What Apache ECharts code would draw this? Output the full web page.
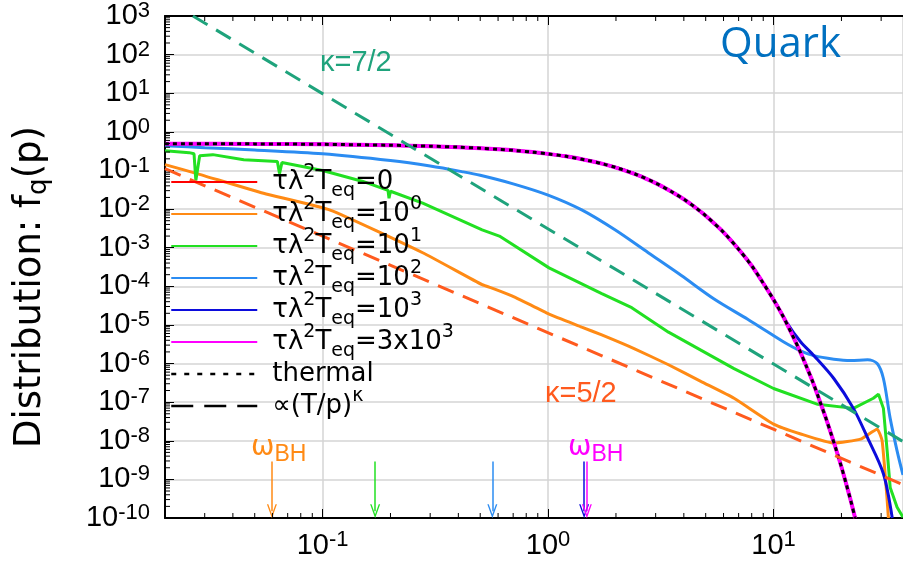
<!DOCTYPE html>
<html>
<head>
<meta charset="UTF-8">
<title>Quark distribution</title>
<script src="https://cdn.jsdelivr.net/npm/echarts@6/dist/echarts.min.js"></script>
<style>
  html, body { margin: 0; padding: 0; background: #fff; }
  #main { width: 903px; height: 566px; }
</style>
</head>
<body>
<div id="main"></div>
<script>
// momentum p (units of T) and f_q(p)
var pThermal = [0.02, 0.05, 0.1, 0.2, 0.3, 0.4, 0.5, 0.6, 0.7, 0.85, 1, 1.2, 1.5, 1.75, 2, 2.5, 3, 3.5, 4, 4.5, 5, 6, 7, 8, 9, 10, 11, 12, 13, 14, 15, 16, 17, 18, 19, 20, 21, 22, 23];
var fThermal = [0.495, 0.488, 0.475, 0.45, 0.426, 0.401, 0.378, 0.354, 0.332, 0.299, 0.269, 0.232, 0.182, 0.148, 0.119, 0.076, 0.047, 0.029, 0.018, 0.011, 0.0067, 0.0025, 9.1e-4, 3.4e-4, 1.2e-4, 4.5e-5, 1.7e-5, 6.1e-6, 2.3e-6, 8.3e-7, 3.1e-7, 1.1e-7, 4.1e-8, 1.5e-8, 5.6e-9, 2.1e-9, 7.6e-10, 2.8e-10, 1.0e-10];
// tau*lambda^2*T_eq = 0 and 3x10^3 lie on the thermal curve
var fTau0 = [0.495, 0.488, 0.475, 0.45, 0.426, 0.401, 0.378, 0.354, 0.332, 0.299, 0.269, 0.232, 0.182, 0.148, 0.119, 0.076, 0.047, 0.029, 0.018, 0.011, 0.0067, 0.0025, 9.1e-4, 3.4e-4, 1.2e-4, 4.5e-5, 1.7e-5, 6.1e-6, 2.3e-6, 8.3e-7, 3.1e-7, 1.1e-7, 4.1e-8, 1.5e-8, 5.6e-9, 2.1e-9, 7.6e-10, 2.8e-10, 1.0e-10];
var fTau3e3 = [0.495, 0.488, 0.475, 0.45, 0.426, 0.401, 0.378, 0.354, 0.332, 0.299, 0.269, 0.232, 0.182, 0.148, 0.119, 0.076, 0.047, 0.029, 0.018, 0.011, 0.0067, 0.0025, 9.1e-4, 3.4e-4, 1.2e-4, 4.5e-5, 1.7e-5, 6.1e-6, 2.3e-6, 8.3e-7, 3.1e-7, 1.1e-7, 4.1e-8, 1.5e-8, 5.6e-9, 2.1e-9, 7.6e-10, 2.8e-10, 1.0e-10];

var pTau1e3 = [0.02, 0.05, 0.1, 0.2, 0.3, 0.4, 0.5, 0.6, 0.7, 0.85, 1, 1.2, 1.5, 1.75, 2, 2.5, 3, 3.5, 4, 4.5, 5, 6, 7, 8, 9, 10, 11.5, 13.2, 15.1, 18.5, 22.6, 26.1, 30.7, 33.6];
var fTau1e3 = [0.495, 0.488, 0.475, 0.45, 0.426, 0.401, 0.378, 0.354, 0.332, 0.299, 0.269, 0.232, 0.182, 0.148, 0.119, 0.076, 0.047, 0.029, 0.018, 0.011, 0.0067, 0.0025, 9.1e-4, 3.4e-4, 1.2e-4, 4.6e-5, 1.1e-5, 3.6e-6, 1.6e-6, 4.1e-7, 6.9e-8, 1.2e-8, 1.4e-9, 1.0e-10];

var pTau1e2 = [0.02, 0.03, 0.05, 0.1, 0.2, 0.3, 0.42, 0.5, 0.7, 1.0, 1.41, 1.98, 2.78, 3.9, 5.45, 7.68, 9.06, 11.1, 13, 15.1, 18.5, 22, 26.1, 28.8, 30.7, 32.9, 35.3, 37.5];
var fTau1e2 = [0.435, 0.39, 0.34, 0.27, 0.18, 0.13, 0.092, 0.075, 0.045, 0.023, 0.0095, 0.0029, 7.4e-4, 1.9e-4, 4.7e-5, 1.4e-5, 7.6e-6, 3.6e-6, 2.2e-6, 1.6e-6, 1.3e-6, 1.2e-6, 1.25e-6, 1.0e-6, 4.1e-7, 3.8e-8, 5.5e-9, 1.3e-9];

var pTau1e1 = [0.02, 0.0256, 0.0269, 0.0274, 0.0285, 0.0326, 0.0447, 0.063, 0.0644, 0.066, 0.1, 0.151, 0.195, 0.197, 0.2, 0.278, 0.51, 0.608, 1.01, 1.73, 2.35, 3.42, 6.68, 10, 15.7, 22.6, 27.7, 29.2, 30.7, 31.9, 32.9, 35.3, 37.5];
var fTau1e1 = [0.324, 0.289, 0.27, 0.055, 0.24, 0.257, 0.19, 0.17, 0.083, 0.16, 0.1, 0.052, 0.0305, 0.019, 0.029, 0.0142, 0.00288, 0.002, 3.0e-4, 6.5e-5, 2.8e-5, 6.5e-6, 7.4e-7, 2.26e-7, 8.8e-8, 6.9e-8, 1.26e-7, 1.6e-7, 6.9e-8, 5.5e-9, 6.2e-10, 1.9e-10, 1.05e-10];

var pTau1e0 = [0.02, 0.0277, 0.0547, 0.108, 0.278, 0.51, 0.58, 0.715, 1.01, 1.41, 1.73, 2.42, 3.42, 4.78, 6.68, 10, 13.2, 18.5, 24.3, 28.8, 30.3, 31.9, 32.3];
var fTau1e0 = [0.142, 0.083, 0.0256, 0.0094, 7.4e-4, 1.1e-4, 8.5e-5, 5.2e-5, 1.9e-5, 8.8e-6, 5.5e-6, 2.4e-6, 9.3e-7, 3.4e-7, 1.26e-7, 2.7e-8, 1.5e-8, 8.7e-9, 1.1e-8, 2.0e-8, 1.0e-8, 2.9e-10, 1.0e-10];

// power-law guides (T/p)^kappa
var pK72 = [0.0266, 40];
var fK72 = [1000, 7.6e-9];
var pK52 = [0.02, 40];
var fK52 = [0.111, 6.2e-10];

// omega_BH arrows: position on the p axis, arrow top and tip
var pArrow = [0.0596, 0.171, 0.566, 1.445, 1.486];
var fArrowTop = 2.9e-9;
var fArrowEnd = 1.5e-10;

var X_MIN = 0.02, X_MAX = 37.5, Y_MIN = 1e-10, Y_MAX = 1e3;

var RED = '#ff0000', ORANGE = '#ff8a14', GREEN = '#22e022', LBLUE = '#2b8cf2',
    DBLUE = '#0c0cdc', MAGENTA = '#ff00ff', TEAL = '#1fa37c', ORED = '#ff5a1e';

var names = ['τλ2Teq=0', 'τλ2Teq=10^0', 'τλ2Teq=10^1', 'τλ2Teq=10^2', 'τλ2Teq=10^3', 'τλ2Teq=3x10^3', 'thermal', '∝(T/p)^κ'];
var legendRich = {};
legendRich[names[0]] = 'τλ{sup|2}T{sub|eq}=0';
legendRich[names[1]] = 'τλ{sup|2}T{sub|eq}=10{sup|0}';
legendRich[names[2]] = 'τλ{sup|2}T{sub|eq}=10{sup|1}';
legendRich[names[3]] = 'τλ{sup|2}T{sub|eq}=10{sup|2}';
legendRich[names[4]] = 'τλ{sup|2}T{sub|eq}=10{sup|3}';
legendRich[names[5]] = 'τλ{sup|2}T{sub|eq}=3x10{sup|3}';
legendRich[names[6]] = 'thermal';
legendRich[names[7]] = '∝(T/p){sup|κ}';

function pairs(xs, ys) {
    return xs.map(function (x, i) { return [x, ys[i]]; });
}

function curve(name, color, xs, ys, extra) {
    var s = {
        name: name,
        type: 'line',
        data: pairs(xs, ys),
        symbol: 'none',
        smooth: 0.3,
        silent: true,
        emphasis: { disabled: true },
        lineStyle: { color: color, width: 3 },
        itemStyle: { color: color }
    };
    for (var k in extra) s[k] = extra[k];
    return s;
}

// open V arrow head, pointing up before rotation
var ARROW = 'path://M5,0 L10,13 L8.6,13 L5,3.6 L1.4,13 L0,13 Z';
function arrow(p, color) {
    return {
        silent: true,
        symbol: ['none', ARROW],
        symbolSize: [10, 14],
        label: { show: false },
        emphasis: { disabled: true },
        lineStyle: { color: color, width: 1.5, type: 'solid' },
        data: [[{ coord: [p, fArrowTop] }, { coord: [p, fArrowEnd] }]]
    };
}

function pow10(v) {
    return '10{s|' + Math.round(Math.log10(v)) + '}';
}

// minor tick positions 2..9 x 10^k
var yMinor = [], xMinor = [];
for (var k = -10; k < 3; k++) {
    for (var m = 2; m < 10; m++) yMinor.push([X_MIN, m * Math.pow(10, k)]);
}
for (var k2 = -2; k2 < 2; k2++) {
    for (var m2 = 2; m2 < 10; m2++) {
        var v = m2 * Math.pow(10, k2);
        if (v > X_MIN * 1.001 && v < X_MAX) xMinor.push(v);
    }
}
function tickSeries(data, dx, dy) {
    return {
        type: 'custom',
        silent: true,
        clip: false,
        z: 5,
        data: data,
        renderItem: function (params, api) {
            var pt = api.coord([api.value(0), api.value(1)]);
            return {
                type: 'line',
                shape: { x1: pt[0], y1: pt[1], x2: pt[0] + dx, y2: pt[1] + dy },
                style: { stroke: '#000', lineWidth: 1 }
            };
        }
    };
}

var chart = echarts.init(document.getElementById('main'));

var option = {
    animation: false,
    backgroundColor: '#fff',
    grid: { left: 161, right: 0, top: 11, bottom: 48 },
    legend: {
        orient: 'vertical',
        left: 165,
        top: 158,
        itemWidth: 86,
        itemHeight: 14,
        itemGap: -6,
        selectedMode: false,
        itemStyle: { opacity: 0 },
        textStyle: {
            fontFamily: 'DejaVu Sans', fontSize: 26, lineHeight: 38, color: '#000',
            padding: [0, 0, 0, 10],
            rich: {
                sup: { fontFamily: 'DejaVu Sans', fontSize: 19, lineHeight: 12, verticalAlign: 'top', color: '#000' },
                sub: { fontFamily: 'DejaVu Sans', fontSize: 19, lineHeight: 12, verticalAlign: 'bottom', color: '#000' }
            }
        },
        formatter: function (name) { return legendRich[name]; },
        data: [names[0], names[1], names[2], names[3], names[4], names[5],
            { name: names[6], lineStyle: { color: '#000', type: [5, 8], width: 2.5 } },
            { name: names[7], lineStyle: { color: '#000', type: [22, 11], width: 2.5 } }]
    },
    xAxis: [{
        type: 'log', logBase: 10, min: X_MIN, max: X_MAX, position: 'bottom',
        axisLine: { lineStyle: { color: '#000', width: 2 } },
        axisTick: { inside: true, length: 9, lineStyle: { color: '#000', width: 1 } },
        axisLabel: {
            margin: 11, showMinLabel: false, showMaxLabel: false, formatter: pow10,
            color: '#000', fontFamily: 'Liberation Sans', fontSize: 29, lineHeight: 34,
            rich: { s: { fontFamily: 'Liberation Sans', fontSize: 22, lineHeight: 10, verticalAlign: 'top', color: '#000' } }
        },
        splitLine: { show: true, lineStyle: { color: '#d4d4d4', width: 1.5 } }
    }, {
        type: 'log', logBase: 10, min: X_MIN, max: X_MAX, position: 'top',
        axisLine: { lineStyle: { color: '#000', width: 2 } },
        axisTick: { inside: true, length: 9, lineStyle: { color: '#000', width: 1 } },
        axisLabel: { show: false },
        splitLine: { show: false }
    }],
    yAxis: {
        type: 'log', logBase: 10, min: Y_MIN, max: Y_MAX, interval: 1,
        name: 'Distribution: f{q|q}(p)',
        nameLocation: 'middle',
        nameGap: 113,
        nameTextStyle: {
            fontFamily: 'DejaVu Sans', fontSize: 37, lineHeight: 44, color: '#000',
            padding: [0, 40, 0, 0],
            rich: { q: { fontFamily: 'DejaVu Sans', fontSize: 26, lineHeight: 14, verticalAlign: 'bottom', color: '#000' } }
        },
        axisLine: { lineStyle: { color: '#000', width: 2 } },
        axisTick: { inside: true, length: 9, lineStyle: { color: '#000', width: 1 } },
        axisLabel: {
            margin: 15, formatter: pow10,
            color: '#000', fontFamily: 'Liberation Sans', fontSize: 29, lineHeight: 32,
            rich: { s: { fontFamily: 'Liberation Sans', fontSize: 22, lineHeight: 10, verticalAlign: 'top', color: '#000' } }
        },
        splitLine: { show: true, lineStyle: { color: '#d4d4d4', width: 1.5 } }
    },
    series: [
        curve(names[0], RED, pThermal, fTau0),
        curve(names[1], ORANGE, pTau1e0, fTau1e0, { smooth: 0.15, markLine: arrow(pArrow[0], ORANGE) }),
        curve(names[2], GREEN, pTau1e1, fTau1e1, { smooth: false, markLine: arrow(pArrow[1], GREEN) }),
        curve(names[3], LBLUE, pTau1e2, fTau1e2, { markLine: arrow(pArrow[2], LBLUE) }),
        curve(names[4], DBLUE, pTau1e3, fTau1e3, { markLine: arrow(pArrow[3], DBLUE) }),
        curve(names[5], MAGENTA, pThermal, fTau3e3, { lineStyle: { color: MAGENTA, width: 4 }, markLine: arrow(pArrow[4], MAGENTA) }),
        curve(names[6], '#000', pThermal, fThermal, { lineStyle: { color: '#000', width: 3, type: [4, 4] } }),
        curve(names[7], TEAL, pK72, fK72, { smooth: false, lineStyle: { color: TEAL, width: 3, type: [17, 10] } }),
        curve(names[7], ORED, pK52, fK52, { smooth: false, lineStyle: { color: ORED, width: 3, type: [17, 10] } }),
        tickSeries(yMinor, 5, 0),
        tickSeries(xMinor.map(function (x) { return [x, Y_MIN]; }), 0, -5),
        tickSeries(xMinor.map(function (x) { return [x, Y_MAX]; }), 0, 5)
    ],
    graphic: [
        { type: 'text', left: 720, top: 24, z: 100, style: { text: 'Quark', fill: '#0070c0', fontFamily: 'Open Sans', fontSize: 42 } },
        { type: 'text', left: 320, top: 48, z: 100, style: { text: 'κ=7/2', fill: TEAL, fontFamily: 'Liberation Sans', fontSize: 29 } },
        { type: 'text', left: 545, top: 379, z: 100, style: { text: 'κ=5/2', fill: ORED, fontFamily: 'Liberation Sans', fontSize: 29 } },
        { type: 'text', left: 251, top: 430, z: 100, style: {
            text: 'ω{b|BH}', fill: ORANGE, fontFamily: 'DejaVu Sans', fontSize: 28, lineHeight: 36,
            rich: { b: { fill: ORANGE, fontFamily: 'Liberation Sans', fontSize: 23, lineHeight: 16, verticalAlign: 'bottom' } } } },
        { type: 'text', left: 568, top: 430, z: 100, style: {
            text: 'ω{b|BH}', fill: MAGENTA, fontFamily: 'DejaVu Sans', fontSize: 28, lineHeight: 36,
            rich: { b: { fill: MAGENTA, fontFamily: 'Liberation Sans', fontSize: 23, lineHeight: 16, verticalAlign: 'bottom' } } } }
    ]
};

chart.setOption(option);
</script>
</body>
</html>
